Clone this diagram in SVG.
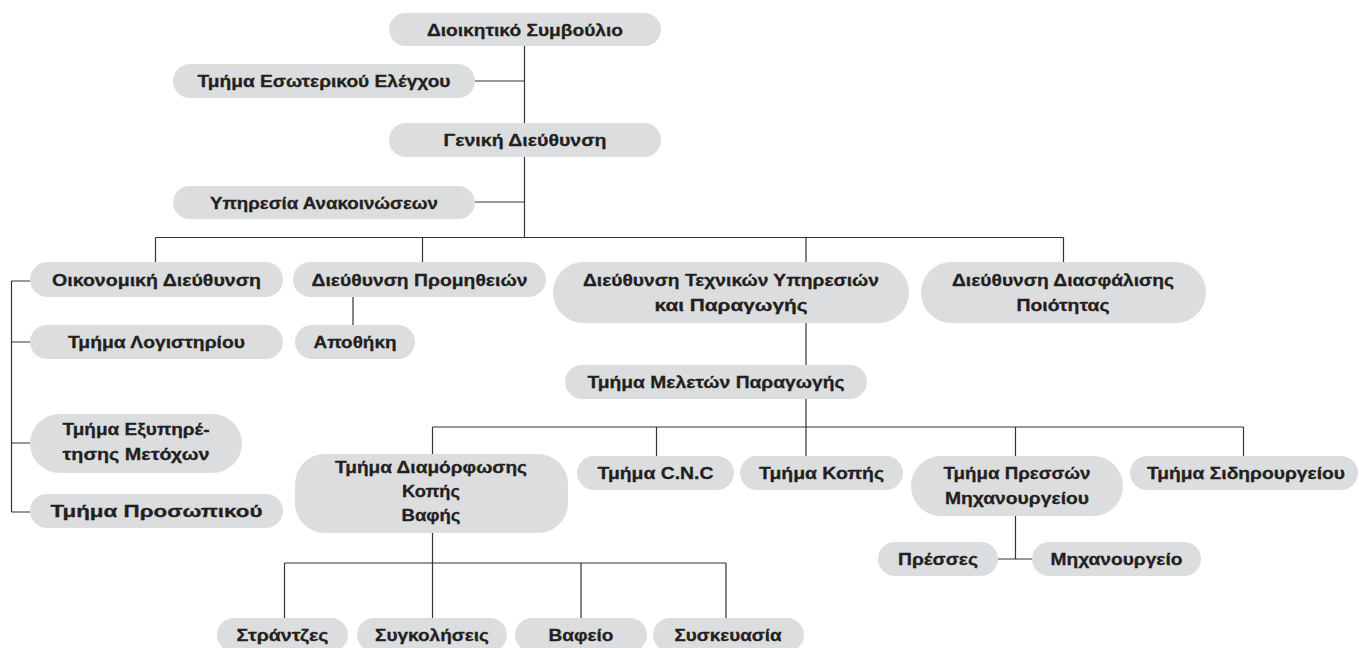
<svg xmlns="http://www.w3.org/2000/svg" width="1359" height="648" viewBox="0 0 1359 648">
<style>
.box{fill:#dcdddf;}
.t{font-family:"Liberation Sans",Arial,sans-serif;font-weight:bold;font-size:17px;fill:#231f20;stroke:#231f20;stroke-width:0.3;text-anchor:middle;}
.c{stroke:#333;stroke-width:1.2;fill:none;}
</style>
<rect width="1359" height="648" fill="#fff"/>
<g id="connectors">
<path class="c" d="M524.5 46V123M524.5 157V237.5M475 81H524.5M475 202H524.5"/>
<path class="c" d="M155.5 237.5H1063.5M155.5 237.5V262M422.5 237.5V262M806 237.5V262M1063.5 237.5V262"/>
<path class="c" d="M353 297V325"/>
<path class="c" d="M11.5 281V512M11.5 281H30M11.5 342H30M11.5 443H30M11.5 512H30"/>
<path class="c" d="M806 323V365M806 399V427"/>
<path class="c" d="M432.5 427H1243.5M432.5 427V454M656.5 427V456M806 427V456M1015.5 427V456M1243.5 427V456"/>
<path class="c" d="M1015.5 516V559M998 559H1032"/>
<path class="c" d="M432.5 533V618M284.5 563H726M284.5 563V618M581 563V618M726 563V618"/>
</g>
<g id="n1"><rect class="box" x="389" y="13" width="272" height="33" rx="16.5"/><text class="t" x="525" y="35.5" textLength="196" lengthAdjust="spacingAndGlyphs">Διοικητικό Συμβούλιο</text></g>
<g id="n2"><rect class="box" x="173" y="64" width="302" height="34" rx="17"/><text class="t" x="324" y="87" textLength="253" lengthAdjust="spacingAndGlyphs">Τμήμα Εσωτερικού Ελέγχου</text></g>
<g id="n3"><rect class="box" x="389" y="123" width="272" height="34" rx="17"/><text class="t" x="525" y="146" textLength="163" lengthAdjust="spacingAndGlyphs">Γενική Διεύθυνση</text></g>
<g id="n4"><rect class="box" x="173" y="186" width="302" height="33" rx="16.5"/><text class="t" x="324" y="208.5" textLength="228" lengthAdjust="spacingAndGlyphs">Υπηρεσία Ανακοινώσεων</text></g>
<g id="n5"><rect class="box" x="30" y="262" width="253" height="35" rx="17.5"/><text class="t" x="156.5" y="285.5" textLength="209" lengthAdjust="spacingAndGlyphs">Οικονομική Διεύθυνση</text></g>
<g id="n6"><rect class="box" x="293" y="262" width="253" height="35" rx="17.5"/><text class="t" x="419.5" y="285.5" textLength="216" lengthAdjust="spacingAndGlyphs">Διεύθυνση Προμηθειών</text></g>
<g id="n7"><rect class="box" x="553" y="262" width="356" height="61" rx="30.5"/><text class="t" x="731" y="285.5" textLength="296" lengthAdjust="spacingAndGlyphs">Διεύθυνση Τεχνικών Υπηρεσιών</text><text class="t" x="731" y="310.5" textLength="153" lengthAdjust="spacingAndGlyphs">και Παραγωγής</text></g>
<g id="n8"><rect class="box" x="921" y="262" width="285" height="61" rx="30.5"/><text class="t" x="1063" y="285.5" textLength="222" lengthAdjust="spacingAndGlyphs">Διεύθυνση Διασφάλισης</text><text class="t" x="1063" y="310.5" textLength="93" lengthAdjust="spacingAndGlyphs">Ποιότητας</text></g>
<g id="n9"><rect class="box" x="30" y="325" width="253" height="34" rx="17"/><text class="t" x="156.5" y="348" textLength="177" lengthAdjust="spacingAndGlyphs">Τμήμα Λογιστηρίου</text></g>
<g id="n10"><rect class="box" x="295" y="325" width="120" height="34" rx="17"/><text class="t" x="355" y="348" textLength="83" lengthAdjust="spacingAndGlyphs">Αποθήκη</text></g>
<g id="n11"><rect class="box" x="30" y="414" width="212" height="59" rx="29.5"/><text class="t" x="136" y="434.5" textLength="147" lengthAdjust="spacingAndGlyphs">Τμήμα Εξυπηρέ-</text><text class="t" x="136" y="460" textLength="147" lengthAdjust="spacingAndGlyphs">τησης Μετόχων</text></g>
<g id="n12"><rect class="box" x="30" y="494" width="253" height="34" rx="17"/><text class="t" x="156.5" y="517" textLength="212" lengthAdjust="spacingAndGlyphs">Τμήμα Προσωπικού</text></g>
<g id="n13"><rect class="box" x="565" y="365" width="302" height="34" rx="17"/><text class="t" x="716" y="388" textLength="257" lengthAdjust="spacingAndGlyphs">Τμήμα Μελετών Παραγωγής</text></g>
<g id="n14"><rect class="box" x="295" y="454" width="273" height="79" rx="30"/><text class="t" x="431" y="472.5" textLength="192" lengthAdjust="spacingAndGlyphs">Τμήμα Διαμόρφωσης</text><text class="t" x="431" y="496.5" textLength="58" lengthAdjust="spacingAndGlyphs">Κοπής</text><text class="t" x="431" y="520.5" textLength="59" lengthAdjust="spacingAndGlyphs">Βαφής</text></g>
<g id="n15"><rect class="box" x="577" y="456" width="157" height="34" rx="17"/><text class="t" x="655.5" y="479" textLength="116" lengthAdjust="spacingAndGlyphs">Τμήμα C.N.C</text></g>
<g id="n16"><rect class="box" x="740" y="456" width="163" height="34" rx="17"/><text class="t" x="821.5" y="479" textLength="125" lengthAdjust="spacingAndGlyphs">Τμήμα Κοπής</text></g>
<g id="n17"><rect class="box" x="911" y="456" width="212" height="60" rx="30"/><text class="t" x="1017" y="479" textLength="147" lengthAdjust="spacingAndGlyphs">Τμήμα Πρεσσών</text><text class="t" x="1017" y="504" textLength="144" lengthAdjust="spacingAndGlyphs">Μηχανουργείου</text></g>
<g id="n18"><rect class="box" x="1130" y="456" width="228" height="34" rx="17"/><text class="t" x="1246" y="479" textLength="198" lengthAdjust="spacingAndGlyphs">Τμήμα Σιδηρουργείου</text></g>
<g id="n19"><rect class="box" x="878" y="542" width="120" height="34" rx="17"/><text class="t" x="938" y="565" textLength="80" lengthAdjust="spacingAndGlyphs">Πρέσσες</text></g>
<g id="n20"><rect class="box" x="1032" y="542" width="169" height="34" rx="17"/><text class="t" x="1116.5" y="565" textLength="132" lengthAdjust="spacingAndGlyphs">Μηχανουργείο</text></g>
<g id="n21"><rect class="box" x="217" y="618" width="131" height="34" rx="17"/><text class="t" x="282.5" y="641" textLength="92" lengthAdjust="spacingAndGlyphs">Στράντζες</text></g>
<g id="n22"><rect class="box" x="357" y="618" width="150" height="34" rx="17"/><text class="t" x="432" y="641" textLength="114" lengthAdjust="spacingAndGlyphs">Συγκολήσεις</text></g>
<g id="n23"><rect class="box" x="515" y="618" width="132" height="34" rx="17"/><text class="t" x="581" y="641" textLength="65" lengthAdjust="spacingAndGlyphs">Βαφείο</text></g>
<g id="n24"><rect class="box" x="653" y="618" width="151" height="34" rx="17"/><text class="t" x="728" y="641" textLength="107" lengthAdjust="spacingAndGlyphs">Συσκευασία</text></g>
</svg>
